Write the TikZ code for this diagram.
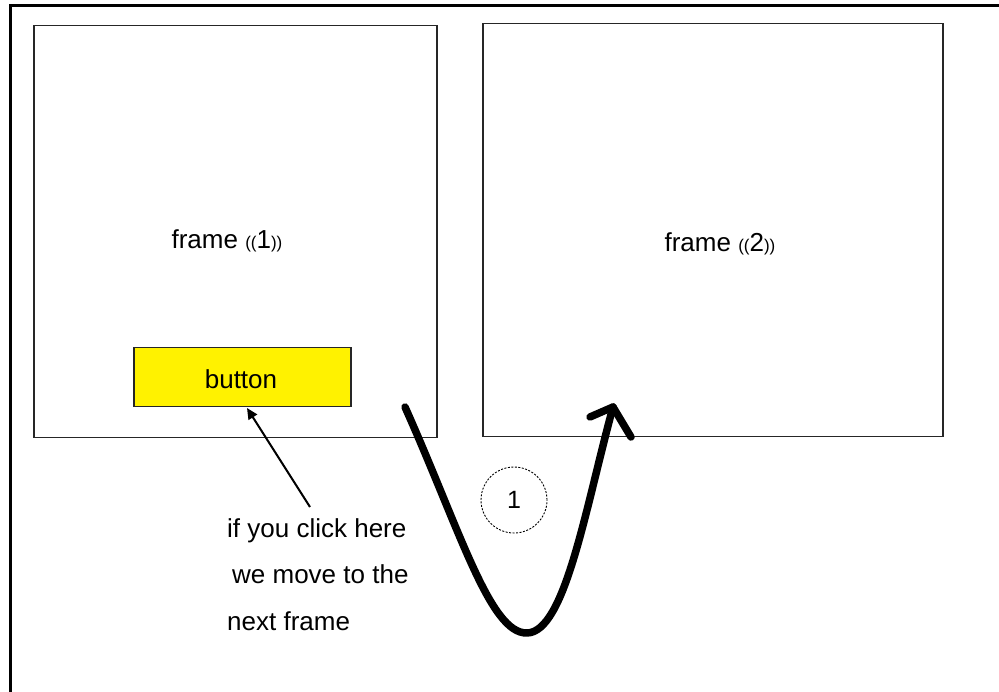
\documentclass[tikz,border=0pt]{standalone}
\usepackage{fontspec}
\setmainfont{Liberation Sans}
\usetikzlibrary{arrows.meta}
\begin{document}
\begin{tikzpicture}[x=1pt,y=-1pt,
  framebox/.style={draw=black!85,line width=1.5pt},
  lbl/.style={font=\fontsize{26}{46.5}\selectfont,inner sep=0pt},
  bigarrow/.style={line width=7.5pt,line cap=round,line join=round},
  ptr/.style={line width=2pt,-{Triangle[length=11pt,width=10pt]}}]
\useasboundingbox (0,0) rectangle (999,692);
\fill[white] (0,0) rectangle (999,692);
% outer border (open at right and bottom)
\draw[line width=3pt] (999,6) -- (10,6) -- (10,692);
% frames
\node[framebox,minimum width=403pt,minimum height=412pt,anchor=north west] (f1) at (33,25) {};
\node[framebox,minimum width=460pt,minimum height=413pt,anchor=north west] (f2) at (482,23) {};
\node[lbl] (t1) at (227,241) {frame {\fontsize{17}{17}\selectfont((}1{\fontsize{17}{17}\selectfont))}};
\node[lbl] (t2) at (720,244) {frame {\fontsize{17}{17}\selectfont((}2{\fontsize{17}{17}\selectfont))}};
% button
\node[draw=black!85,line width=1.5pt,fill=yellow,minimum width=217pt,minimum height=59pt,anchor=north west,inner sep=0pt] (btn) at (133,347) {};
\node[lbl] (btxt) at (241,379) {button};
% explanation text
\node[lbl,align=left,anchor=base west] (expl) at (227,630) {if you click here\\[0pt]\hspace{5pt}we move to the\\next frame};
\coordinate (ps) at (310,507);
\coordinate (pe) at (247,408);
\draw[ptr] (ps) -- (pe);
% step circle
\node[draw,circle,dashed,dash pattern=on 2pt off 1.5pt,line width=0.9pt,minimum size=66pt,inner sep=0pt,font=\fontsize{25}{25}\selectfont] (c1) at (514,500) {1};
% big curved arrow
\coordinate (a0) at (405,407);
\coordinate (a1) at (527,633);
\coordinate (a2) at (613,407);
\coordinate (b1) at (590,417);
\coordinate (b2) at (631,437);
\draw[bigarrow] (a0) .. controls (460,530) and (490,634) .. (a1) .. controls (565,632) and (585,510) .. (a2);
\draw[bigarrow] (b1) -- (a2) -- (b2);
\end{tikzpicture}
\end{document}
